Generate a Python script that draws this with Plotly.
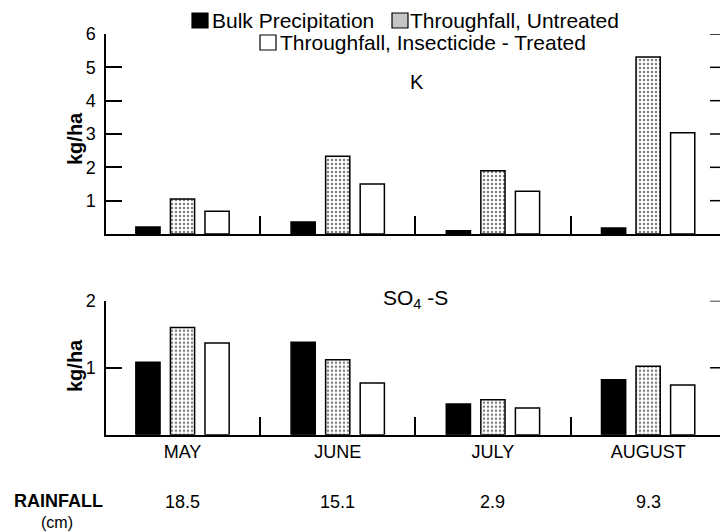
import plotly.graph_objects as go

months = ["MAY", "JUNE", "JULY", "AUGUST"]
series_names = ["Bulk Precipitation", "Throughfall, Untreated", "Throughfall, Insecticide - Treated"]
k_bulk = [0.21, 0.36, 0.10, 0.18]
k_untreated = [1.05, 2.33, 1.90, 5.31]
k_treated = [0.68, 1.50, 1.28, 3.04]
s_bulk = [1.08, 1.38, 0.46, 0.82]
s_untreated = [1.60, 1.12, 0.52, 1.02]
s_treated = [1.37, 0.77, 0.40, 0.74]
rainfall = ["18.5", "15.1", "2.9", "9.3"]
k_ticks = [1, 2, 3, 4, 5, 6]
s_ticks = [1, 2]

W, H = 720, 531
FONT = "Liberation Sans, Arial, sans-serif"

def py(p):
    return 1 - p / H

def px(p):
    return p / W

styles = [
    dict(color="black", line=dict(color="black", width=1.5)),
    dict(color="white", line=dict(color="black", width=1.5),
         pattern=dict(shape=".", fgcolor="black", bgcolor="white", size=4, solidity=0.3)),
    dict(color="white", line=dict(color="black", width=1.5)),
]

fig = go.Figure()
for name, vals, st in zip(series_names, [k_bulk, k_untreated, k_treated], styles):
    fig.add_trace(go.Bar(x=months, y=vals, name=name, marker=st, xaxis="x", yaxis="y", showlegend=False))
for name, vals, st in zip(series_names, [s_bulk, s_untreated, s_treated], styles):
    fig.add_trace(go.Bar(x=months, y=vals, name=name, marker=st, xaxis="x2", yaxis="y2", showlegend=False))

xrange = [-0.493, 3.463]
xdom = [px(106), 1.0]
common_x = dict(type="category", categoryorder="array", categoryarray=months, range=xrange,
                domain=xdom, showline=True, linecolor="black", linewidth=1.5, ticks="inside",
                tickson="boundaries", ticklen=18, tickwidth=1.5, tickcolor="black",
                showgrid=False, zeroline=False, automargin=False,
                tickfont=dict(family=FONT, size=18, color="black"))
common_y = dict(showline=True, linecolor="black", linewidth=1.5, ticks="inside", ticklen=16,
                tickwidth=1.5, tickcolor="black", showgrid=False, zeroline=False, automargin=False,
                tickfont=dict(family=FONT, size=18, color="black"), ticklabelstandoff=5)

fig.update_layout(
    width=W, height=H, margin=dict(l=0, r=0, t=0, b=0, pad=0, autoexpand=False),
    paper_bgcolor="white", plot_bgcolor="white", showlegend=False,
    barmode="group", bargap=0.332, bargroupgap=0.3,
    xaxis=dict(common_x, anchor="y", showticklabels=False),
    yaxis=dict(common_y, domain=[py(234), py(34)], range=[0, 6], tickvals=k_ticks, anchor="x"),
    xaxis2=dict(common_x, anchor="y2", showticklabels=True),
    yaxis2=dict(common_y, domain=[py(434.7), py(300.7)], range=[0, 2], tickvals=s_ticks, anchor="x2"),
)

shapes = []
# right-side inner ticks
for yref, ticks in (("y", k_ticks), ("y2", s_ticks)):
    for v in ticks:
        shapes.append(dict(type="line", xref="x domain" if yref == "y" else "x2 domain",
                           x0=(710 - 106) / (720 - 106), x1=1, yref=yref, y0=v, y1=v,
                           line=dict(color="black", width=1.5)))

# legend swatches
swatch_fills = ["black", "#c4c4c4", "white"]
sw_pos = [(192, 13), (392, 13), (260, 35)]
for (x0, y0), fill in zip(sw_pos, swatch_fills):
    shapes.append(dict(type="rect", xref="paper", yref="paper", x0=px(x0), x1=px(x0 + 16),
                       y0=py(y0 + 15), y1=py(y0), fillcolor=fill, line=dict(color="black", width=1.2)))
fig.update_layout(shapes=shapes)

def note(text, x, y, size, xanchor="center", xref="paper", angle=0):
    return dict(text=text, x=x, y=py(y), xref=xref, yref="paper", xanchor=xanchor, yanchor="middle",
                showarrow=False, textangle=angle, font=dict(family=FONT, size=size, color="black"))

ann = []
leg_text_x = [210, 408, 278]
leg_text_y = [21, 21, 43]
for name, x, y in zip(series_names, leg_text_x, leg_text_y):
    ann.append(note(name, px(x), y, 21, xanchor="left"))

ann.append(note("K", px(417), 82, 20))
ann.append(note("SO<sub>4</sub> -S", px(416), 299, 21))
for y in (139, 366):
    ann.append(note("<b>kg/ha</b>", px(75), y, 20, angle=-90))

ann.append(note("<b>RAINFALL</b>", px(58), 501, 18))
ann.append(note("(cm)", px(57), 522, 16))
for m, r in zip(months, rainfall):
    ann.append(note(r, m, 502, 18, xref="x2"))
fig.update_layout(annotations=ann)

fig.write_html("out.html", config={"displayModeBar": False},
               post_script="document.body.style.margin='0';document.body.style.overflow='hidden';")
